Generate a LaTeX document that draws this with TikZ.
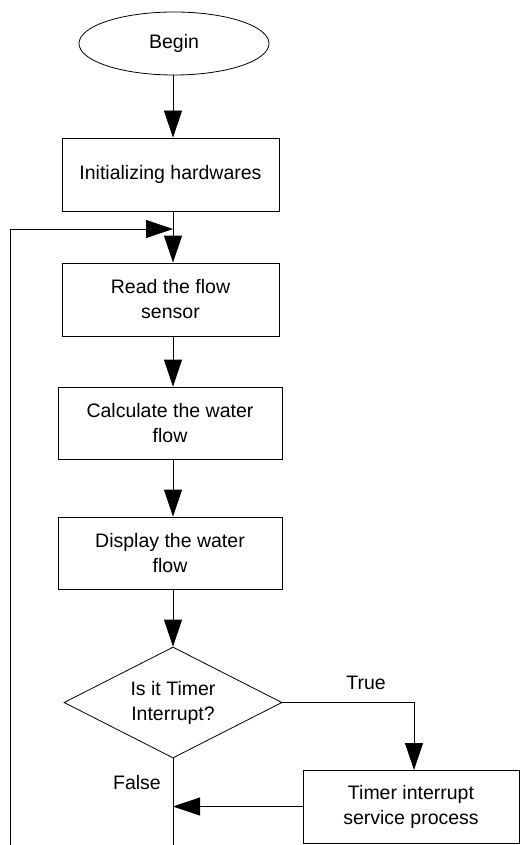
\documentclass[tikz,border=0pt]{standalone}
\usepackage{fontspec}
\setmainfont{Liberation Sans}
\usetikzlibrary{shapes.geometric,arrows.meta}
\begin{document}
\begin{tikzpicture}[x=1pt,y=-1pt,
  every node/.style={font=\fontsize{19.5pt}{25pt}\selectfont, align=center, inner sep=0pt},
  proc/.style={draw, line width=0.8pt, rectangle, minimum width=217pt, minimum height=73pt},
  arr/.style={line width=0.8pt, -{Triangle[length=27pt,width=18pt]}},
  ln/.style={line width=0.8pt}]
\useasboundingbox (0,0) rectangle (520,845);
\node[draw, line width=0.8pt, ellipse, minimum width=190pt, minimum height=63pt] (begin) at (174,43.5) {Begin};
\node[proc] (init) at (170.5,174.5) {Initializing hardwares};
\node[proc] (read) at (170.5,299.5) {Read the flow\\sensor};
\node[proc, minimum width=224pt, minimum height=72pt] (calc) at (170,423) {Calculate the water\\flow};
\node[proc, minimum width=224pt, minimum height=72pt] (disp) at (170,553) {Display the water\\flow};
\node[draw, line width=0.8pt, diamond, aspect=1.96, minimum width=218pt, minimum height=111pt] (dec) at (173,702.5) {Is it Timer\\Interrupt?};
\node[proc, minimum width=216pt] (timer) at (411,806.5) {Timer interrupt\\service process};
\node (true) at (366,683) {True};
\node (false) at (137,783) {False};
\coordinate (join) at (173,229);
\coordinate (loopbot) at (10,845);
\coordinate (mainbot) at (173,845);
\draw[arr] (begin.south -| dec.north) -- (dec.north |- init.north);
\draw[ln] (dec.north |- init.south) -- (join);
\draw[arr] (join) -- (dec.north |- read.north);
\draw[arr] (dec.north |- read.south) -- (dec.north |- calc.north);
\draw[arr] (dec.north |- calc.south) -- (dec.north |- disp.north);
\draw[arr] (dec.north |- disp.south) -- (dec.north);
\draw[arr] (dec.east) -- (414,702.5) -- (414,770);
\draw[arr] (timer.west) -- (dec.south |- timer.west);
\draw[ln] (dec.south) -- (mainbot);
\draw[arr] (loopbot) -- (10,229) -- (join);
\end{tikzpicture}
\end{document}
